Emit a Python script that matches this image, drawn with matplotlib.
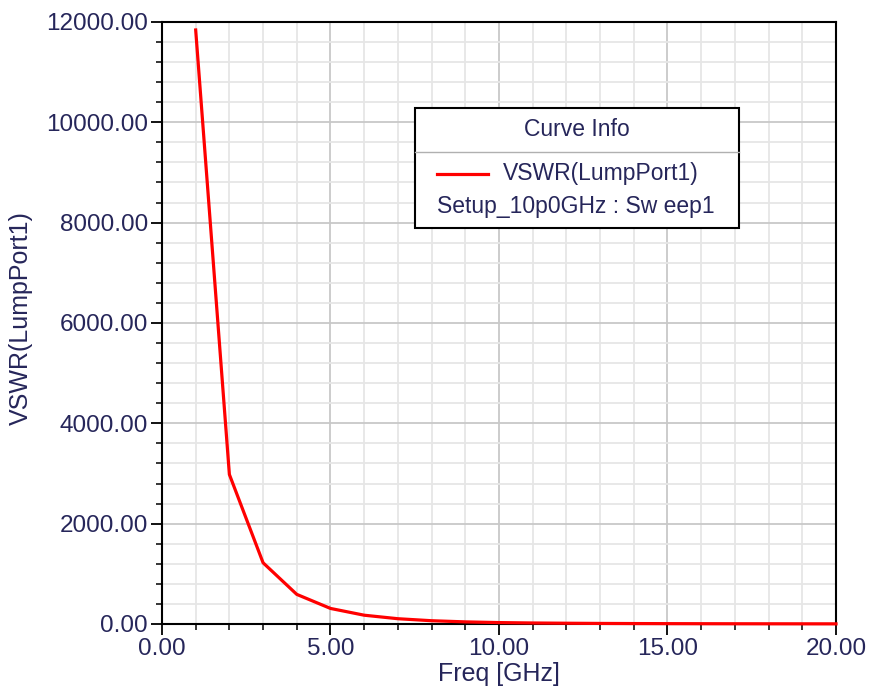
import numpy as np
import matplotlib
matplotlib.use("Agg")
import matplotlib.pyplot as plt
from matplotlib.patches import Rectangle
from matplotlib.ticker import MultipleLocator, FormatStrFormatter

# --- data ---
freq_ghz = [1, 2, 3, 4, 5, 6, 7, 8, 9, 10, 11, 12, 13, 14, 15, 16, 17, 18, 19, 20]
vswr = [11840, 2980, 1220, 590, 310, 175, 105, 65, 42, 28,
        20, 15, 11, 8.5, 6.8, 5.5, 4.5, 3.8, 3.2, 2.7]

x_label = "Freq [GHz]"
y_label = "VSWR(LumpPort1)"
legend_title = "Curve Info"
trace_name = "VSWR(LumpPort1)"
sweep_name = "Setup_10p0GHz : Sw eep1"

plt.rcParams["font.family"] = ["Liberation Sans", "DejaVu Sans"]
TXT = "#26265a"

fig = plt.figure(figsize=(8.69, 6.86), dpi=100)
ax = fig.add_axes([0.1864, 0.0904, 0.7756, 0.8776])

ax.plot(freq_ghz, vswr, color="red", linewidth=2.3, zorder=5, clip_on=False)

ax.set_xlim(0, 20)
ax.set_ylim(0, 12000)
ax.xaxis.set_major_locator(MultipleLocator(5))
ax.xaxis.set_minor_locator(MultipleLocator(1))
ax.yaxis.set_major_locator(MultipleLocator(2000))
ax.yaxis.set_minor_locator(MultipleLocator(400))
ax.xaxis.set_major_formatter(FormatStrFormatter("%.2f"))
ax.yaxis.set_major_formatter(FormatStrFormatter("%.2f"))

ax.grid(which="major", color="#c8c8c8", linewidth=1.3)
ax.grid(which="minor", color="#e6e6e6", linewidth=1.3)
ax.set_axisbelow(True)

for s in ax.spines.values():
    s.set_linewidth(1.5)
    s.set_color("black")

ax.tick_params(which="major", length=8, width=1.3, direction="out",
               labelsize=17.5, labelcolor=TXT, pad=2)
ax.tick_params(which="minor", length=4, width=1.1, direction="out")

ax.set_xlabel(x_label, fontsize=18, color=TXT)
ax.set_ylabel(y_label, fontsize=18, color=TXT)
ax.xaxis.set_label_coords(0.5, -0.063)
ax.yaxis.set_label_coords(-0.191, 0.508)

# --- "Curve Info" box ---
bx0, bx1, by0, by1 = 0.375, 0.856, 0.658, 0.857
ax.add_patch(Rectangle((bx0, by0), bx1 - bx0, by1 - by0, transform=ax.transAxes,
                       facecolor="white", edgecolor="black", linewidth=1.5, zorder=10))
ax.plot([bx0, bx1], [0.784, 0.784], transform=ax.transAxes, color="#b0b0b0",
        linewidth=1.0, zorder=11)
ax.text((bx0 + bx1) / 2, 0.821, legend_title, transform=ax.transAxes, ha="center",
        va="center", fontsize=16.5, color=TXT, zorder=12)
ax.plot([0.408, 0.484], [0.748, 0.748], transform=ax.transAxes, color="red",
        linewidth=2.3, zorder=12)
ax.text(0.506, 0.748, trace_name, transform=ax.transAxes, ha="left", va="center",
        fontsize=16.5, color=TXT, zorder=12)
ax.text(0.408, 0.693, sweep_name, transform=ax.transAxes, ha="left", va="center",
        fontsize=16.5, color=TXT, zorder=12)

fig.savefig("out.png", dpi=100)
